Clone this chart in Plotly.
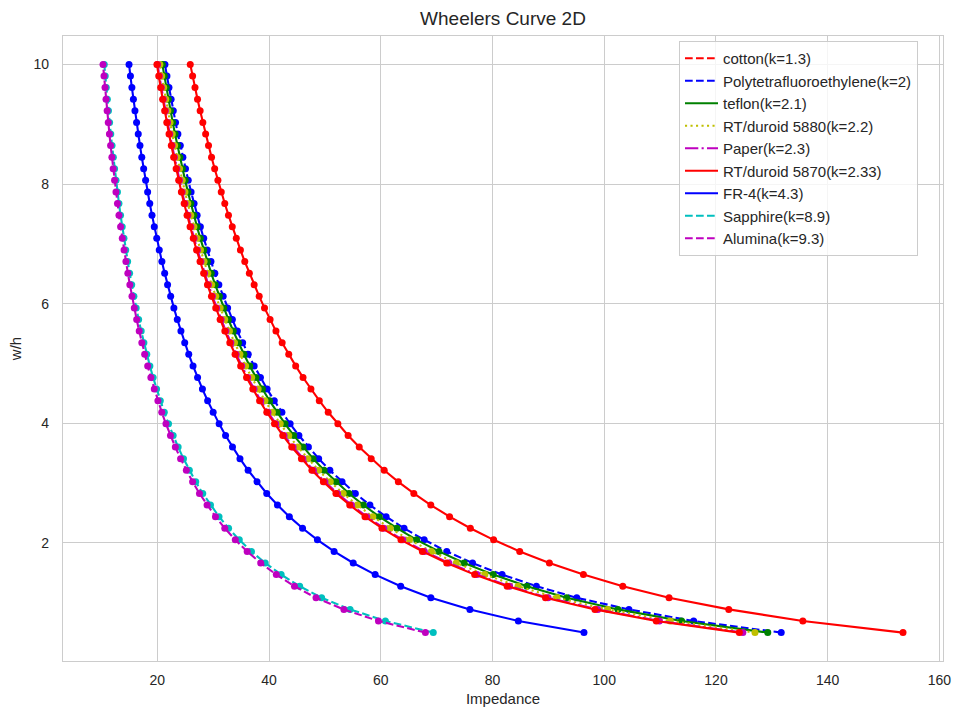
import plotly.graph_objects as go

# Width/height ratio samples shared by every material
w_h = [0.5, 0.6939, 0.8878, 1.0816, 1.2755, 1.4694, 1.6633, 1.8571, 2.0510, 2.2449,
       2.4388, 2.6327, 2.8265, 3.0204, 3.2143, 3.4082, 3.6020, 3.7959, 3.9898, 4.1837,
       4.3776, 4.5714, 4.7653, 4.9592, 5.1531, 5.3469, 5.5408, 5.7347, 5.9286, 6.1224,
       6.3163, 6.5102, 6.7041, 6.8980, 7.0918, 7.2857, 7.4796, 7.6735, 7.8673, 8.0612,
       8.2551, 8.4490, 8.6429, 8.8367, 9.0306, 9.2245, 9.4184, 9.6122, 9.8061, 10.0]

# Characteristic impedance (ohm) per material, one value per w/h sample
z_cotton = [153.48, 135.55, 122.29, 111.60, 103.32, 96.27, 90.18, 84.87, 80.19, 76.03,
            72.31, 68.95, 65.91, 63.14, 60.61, 58.28, 56.14, 54.15, 52.31, 50.59,
            48.99, 47.49, 46.08, 44.76, 43.52, 42.34, 41.23, 40.18, 39.18, 38.23,
            37.33, 36.47, 35.65, 34.87, 34.13, 33.41, 32.73, 32.07, 31.44, 30.84,
            30.26, 29.70, 29.16, 28.64, 28.14, 27.66, 27.19, 26.74, 26.31, 25.89]
z_ptfe = [131.68, 116.00, 104.42, 95.08, 87.85, 81.71, 76.42, 71.81, 67.76, 64.16,
          60.95, 58.05, 55.44, 53.06, 50.88, 48.88, 47.04, 45.34, 43.77, 42.30,
          40.93, 39.65, 38.45, 37.33, 36.27, 35.27, 34.32, 33.43, 32.58, 31.78,
          31.01, 30.29, 29.60, 28.93, 28.30, 27.70, 27.12, 26.57, 26.04, 25.53,
          25.04, 24.57, 24.11, 23.68, 23.26, 22.85, 22.46, 22.08, 21.72, 21.36]
z_teflon = [129.27, 113.85, 102.45, 93.27, 86.16, 80.12, 74.92, 70.40, 66.41, 62.88,
            59.72, 56.88, 54.31, 51.98, 49.84, 47.88, 46.08, 44.41, 42.86, 41.42,
            40.08, 38.82, 37.65, 36.54, 35.50, 34.52, 33.59, 32.72, 31.89, 31.10,
            30.35, 29.64, 28.96, 28.31, 27.69, 27.10, 26.53, 25.99, 25.47, 24.97,
            24.49, 24.03, 23.59, 23.16, 22.75, 22.35, 21.97, 21.60, 21.24, 20.89]
z_rt5880 = [126.98, 111.81, 100.60, 91.56, 84.57, 78.63, 73.51, 69.06, 65.15, 61.68,
            58.57, 55.78, 53.26, 50.96, 48.86, 46.94, 45.16, 43.52, 42.00, 40.59,
            39.27, 38.04, 36.89, 35.80, 34.78, 33.82, 32.91, 32.05, 31.24, 30.46,
            29.73, 29.03, 28.36, 27.73, 27.12, 26.54, 25.98, 25.45, 24.94, 24.45,
            23.98, 23.53, 23.09, 22.67, 22.27, 21.88, 21.51, 21.14, 20.79, 20.45]
z_paper = [124.81, 109.87, 98.84, 89.94, 83.06, 77.21, 72.18, 67.80, 63.95, 60.54,
           57.49, 54.74, 52.26, 50.00, 47.94, 46.05, 44.30, 42.69, 41.20, 39.81,
           38.52, 37.31, 36.17, 35.11, 34.10, 33.16, 32.27, 31.42, 30.62, 29.86,
           29.14, 28.46, 27.80, 27.18, 26.58, 26.01, 25.47, 24.94, 24.44, 23.96,
           23.50, 23.06, 22.63, 22.22, 21.82, 21.44, 21.07, 20.72, 20.37, 20.04]
z_rt5870 = [124.18, 109.31, 98.33, 89.48, 82.62, 76.80, 71.80, 67.44, 63.61, 60.21,
            57.17, 54.44, 51.97, 49.72, 47.67, 45.79, 44.06, 42.45, 40.97, 39.59,
            38.30, 37.09, 35.97, 34.91, 33.91, 32.97, 32.08, 31.24, 30.45, 29.69,
            28.97, 28.29, 27.64, 27.02, 26.43, 25.86, 25.32, 24.80, 24.30, 23.82,
            23.36, 22.92, 22.50, 22.09, 21.69, 21.31, 20.95, 20.59, 20.25, 19.92]
z_fr4 = [96.37, 84.62, 75.95, 68.96, 63.56, 58.99, 55.06, 51.64, 48.65, 45.99,
         43.63, 41.50, 39.58, 37.84, 36.25, 34.79, 33.45, 32.21, 31.06, 29.99,
         29.00, 28.07, 27.20, 26.39, 25.62, 24.90, 24.22, 23.57, 22.96, 22.38,
         21.83, 21.31, 20.81, 20.34, 19.89, 19.45, 19.04, 18.64, 18.26, 17.90,
         17.55, 17.21, 16.89, 16.58, 16.28, 15.99, 15.71, 15.44, 15.18, 14.93]
z_sapphire = [69.39, 60.82, 54.50, 49.41, 45.48, 42.16, 39.31, 36.84, 34.67, 32.75,
              31.04, 29.51, 28.13, 26.87, 25.73, 24.68, 23.72, 22.83, 22.00, 21.24,
              20.53, 19.86, 19.24, 18.66, 18.11, 17.59, 17.11, 16.65, 16.21, 15.80,
              15.41, 15.03, 14.68, 14.34, 14.02, 13.71, 13.41, 13.13, 12.86, 12.60,
              12.35, 12.12, 11.89, 11.66, 11.45, 11.25, 11.05, 10.86, 10.67, 10.50]
z_alumina = [67.98, 59.58, 53.39, 48.40, 44.55, 41.29, 38.50, 36.08, 33.95, 32.07,
             30.40, 28.90, 27.54, 26.31, 25.19, 24.16, 23.22, 22.35, 21.54, 20.79,
             20.10, 19.45, 18.84, 18.27, 17.73, 17.22, 16.75, 16.30, 15.87, 15.46,
             15.08, 14.72, 14.37, 14.04, 13.72, 13.42, 13.13, 12.86, 12.59, 12.34,
             12.09, 11.86, 11.63, 11.42, 11.21, 11.01, 10.81, 10.63, 10.45, 10.27]

materials = ["cotton(k=1.3)", "Polytetrafluoroethylene(k=2)", "teflon(k=2.1)",
             "RT/duroid 5880(k=2.2)", "Paper(k=2.3)", "RT/duroid 5870(k=2.33)",
             "FR-4(k=4.3)", "Sapphire(k=8.9)", "Alumina(k=9.3)"]
impedances = [z_cotton, z_ptfe, z_teflon, z_rt5880, z_paper, z_rt5870,
              z_fr4, z_sapphire, z_alumina]

# Line styles (legend sample dash, dash used on the curve itself)
DASH = "7.7px,3.3px"
DOT = "2.1px,3.4px"
DASHDOT = "13.3px,3.3px,2.1px,3.3px"
styles = [
    dict(color="#ff0000", legend_dash=DASH, dash="solid"),
    dict(color="#0000ff", legend_dash=DASH, dash=DASH),
    dict(color="#008000", legend_dash="solid", dash="solid"),
    dict(color="#bfbf00", legend_dash=DOT, dash=DOT),
    dict(color="#bf00bf", legend_dash=DASHDOT, dash=DASHDOT),
    dict(color="#ff0000", legend_dash="solid", dash="solid"),
    dict(color="#0000ff", legend_dash="solid", dash="solid"),
    dict(color="#00bfbf", legend_dash=DASH, dash=DASH),
    dict(color="#bf00bf", legend_dash=DASH, dash=DASH),
]
LINE_W = 2.1
MARKER_SIZE = 7

FONT = "Liberation Sans, Arial, sans-serif"
TEXT = "#262626"
GRID = "#cccccc"

fig = go.Figure()
for name, z, st in zip(materials, impedances, styles):
    separate_key = st["legend_dash"] != st["dash"]
    if separate_key:
        # legend key only; the curve below keeps its own line style
        fig.add_trace(go.Scatter(
            x=[None], y=[None], mode="lines", name=name, legendgroup=name,
            line=dict(color=st["color"], width=LINE_W, dash=st["legend_dash"]),
        ))
    fig.add_trace(go.Scatter(
        x=z, y=w_h, mode="lines", name=name, legendgroup=name,
        showlegend=not separate_key,
        line=dict(color=st["color"], width=LINE_W, dash=st["dash"]),
    ))
    fig.add_trace(go.Scatter(
        x=z, y=w_h, mode="markers", name=name, legendgroup=name, showlegend=False,
        marker=dict(color=st["color"], size=MARKER_SIZE, line=dict(width=0)),
    ))

axis_common = dict(
    showgrid=True, gridcolor=GRID, gridwidth=1,
    showline=True, linecolor=GRID, linewidth=1.3, mirror=True,
    zeroline=False, ticks="", automargin=False,
    tickfont=dict(family=FONT, size=14, color=TEXT),
)

fig.update_layout(
    width=955, height=711,
    margin=dict(l=63, r=12, t=36, b=50),
    paper_bgcolor="white", plot_bgcolor="white",
    font=dict(family=FONT, color=TEXT),
    title=dict(text="Wheelers Curve 2D", x=0.5, xref="paper", xanchor="center",
               y=1 - 18 / 711, yref="container", yanchor="middle",
               font=dict(family=FONT, size=19, color=TEXT)),
    xaxis=dict(range=[3.11, 160.64], tick0=0, dtick=20, ticklabelstandoff=6,
               title=dict(text="Impedance", standoff=6,
                          font=dict(family=FONT, size=15, color=TEXT)),
               **axis_common),
    yaxis=dict(range=[0.025, 10.475], tick0=0, dtick=2, ticklabelstandoff=10,
               title=dict(text="w/h", standoff=8,
                          font=dict(family=FONT, size=15, color=TEXT)),
               **axis_common),
    legend=dict(x=0.7, y=0.992, xanchor="left", yanchor="top",
                bgcolor="rgba(255,255,255,0.8)", bordercolor=GRID, borderwidth=1,
                tracegroupgap=0, itemwidth=33,
                font=dict(family=FONT, size=15, color=TEXT)),
    showlegend=True,
)

fig.write_html("out.html")
